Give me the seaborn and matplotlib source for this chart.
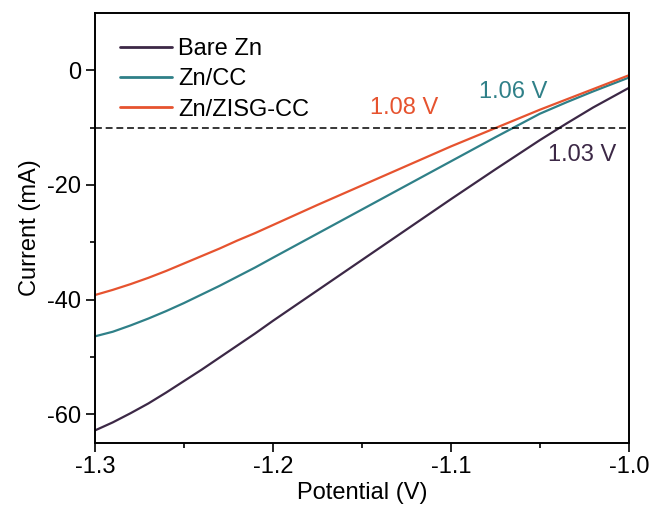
import numpy as np
import pandas as pd
import matplotlib
matplotlib.use("Agg")
import matplotlib.pyplot as plt
import seaborn as sns

# potential (V) sample points
potential = [-1.30, -1.29, -1.28, -1.27, -1.26, -1.25, -1.24, -1.23, -1.22, -1.21, -1.20,
             -1.175, -1.15, -1.125, -1.10, -1.075, -1.05, -1.035, -1.02, -1.01, -1.00]
bare_zn = [-62.8, -61.4, -59.8, -58.1, -56.2, -54.2, -52.2, -50.1, -48.0, -45.9, -43.7,
           -38.4, -33.1, -27.8, -22.5, -17.3, -12.2, -9.3, -6.5, -4.8, -3.1]
zn_cc = [-46.4, -45.6, -44.5, -43.3, -42.0, -40.6, -39.1, -37.6, -36.0, -34.4, -32.7,
         -28.5, -24.3, -20.1, -15.9, -11.7, -7.6, -5.6, -3.7, -2.5, -1.3]
zn_zisg = [-39.2, -38.3, -37.3, -36.2, -35.0, -33.7, -32.4, -31.1, -29.7, -28.4, -27.0,
           -23.5, -20.1, -16.7, -13.3, -10.1, -6.9, -5.1, -3.3, -2.1, -0.9]

names = ["Bare Zn", "Zn/CC", "Zn/ZISG-CC"]
colors = ["#3c2846", "#2f8088", "#e6532f"]
onset = ["1.03 V", "1.06 V", "1.08 V"]

sns.set_style("ticks")
plt.rcParams["font.family"] = ["Liberation Sans", "DejaVu Sans"]
plt.rcParams["font.size"] = 17
plt.rcParams["text.color"] = "black"
plt.rcParams["axes.labelcolor"] = "black"
plt.rcParams["xtick.color"] = "black"
plt.rcParams["ytick.color"] = "black"
plt.rcParams["axes.edgecolor"] = "black"

df = pd.DataFrame({
    "Potential": potential * 3,
    "Current": bare_zn + zn_cc + zn_zisg,
    "Sample": [n for n in names for _ in potential],
})

fig = plt.figure(figsize=(6.55, 5.11), dpi=100)
ax = fig.add_axes([0.145, 0.133, 0.815, 0.842])

sns.lineplot(data=df, x="Potential", y="Current", hue="Sample",
             palette=dict(zip(names, colors)), linewidth=1.6, ax=ax)
ax.axhline(-10, color="black", linestyle=(0, (4.5, 2.5)), linewidth=1.1)

ax.text(-1.026, -14.8, onset[0], color=colors[0], ha="center", va="center", fontsize=17)
ax.text(-1.065, -3.8, onset[1], color=colors[1], ha="center", va="center", fontsize=17)
ax.text(-1.126, -6.6, onset[2], color=colors[2], ha="center", va="center", fontsize=17)

ax.set_xlim(-1.3, -1.0)
ax.set_ylim(-65, 10)
ax.set_xticks([-1.3, -1.2, -1.1, -1.0])
ax.set_xticks([-1.25, -1.15, -1.05], minor=True)
ax.set_yticks([0, -20, -40, -60])
ax.set_yticks([-10, -30, -50], minor=True)
ax.set_xticklabels(["-1.3", "-1.2", "-1.1", "-1.0"])
ax.set_yticklabels(["0", "-20", "-40", "-60"])
ax.tick_params(which="major", length=6.5, width=1.2, direction="out", labelsize=17,
               color="black")
ax.tick_params(axis="x", which="major", pad=2.5)
ax.tick_params(which="minor", length=3.5, width=1.2, direction="out", color="black")
for s in ax.spines.values():
    s.set_linewidth(1.4)
    s.set_color("black")
    s.set_visible(True)

ax.set_xlabel("Potential (V)", fontsize=17, labelpad=3)
ax.set_ylabel("Current (mA)", fontsize=17, labelpad=4)

leg = ax.legend(loc="upper left", frameon=False, handlelength=2.2,
                handletextpad=0.25, labelspacing=0.35, borderaxespad=0.4,
                bbox_to_anchor=(0.012, 0.985), fontsize=17)
for h in leg.get_lines():
    h.set_linewidth(2)

fig.savefig("out.png", dpi=100)
